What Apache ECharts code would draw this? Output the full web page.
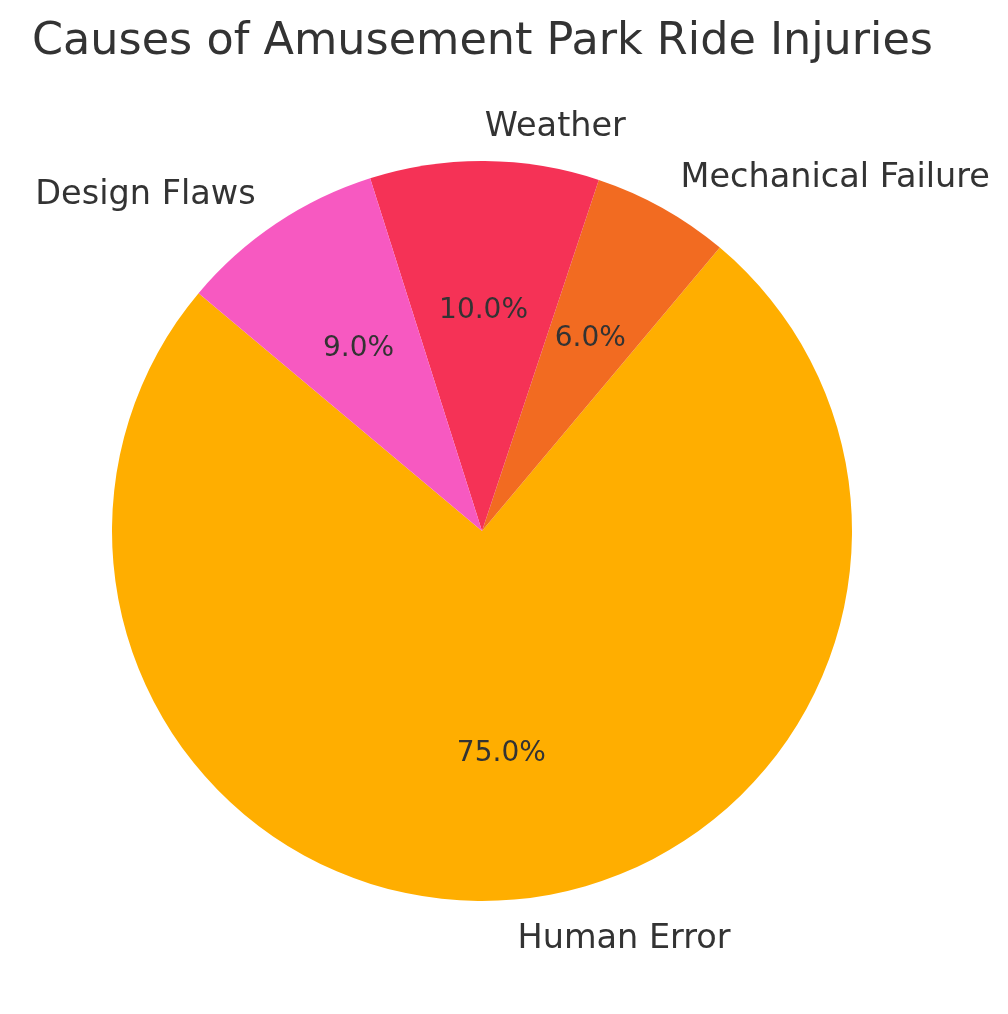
<!DOCTYPE html>
<html>
<head>
<meta charset="utf-8">
<script src="https://cdn.jsdelivr.net/npm/echarts@6/dist/echarts.min.js"></script>
<style>
  html, body { margin: 0; padding: 0; background: #fff; }
  #main { width: 1008px; height: 1014px; }
</style>
</head>
<body>
<div id="main"></div>
<script>
// data (drawn counter-clockwise from 140 deg)
var causes = ['Human Error', 'Mechanical Failure', 'Weather', 'Design Flaws'];
var shares = [75, 6, 10, 9];
var colors = ['#FFAE00', '#F26B21', '#F53256', '#F759C1'];

var R = 370;
var textCol = '#333333';
var font = 'DejaVu Sans';

var pieData = [];
for (var i = 0; i < causes.length; i++) {
    pieData.push({ name: causes[i], value: shares[i], itemStyle: { color: colors[i] } });
}

var chart = echarts.init(document.getElementById('main'));
var option = {
    animation: false,
    title: {
        text: 'Causes of Amusement Park Ride Injuries',
        left: 27,
        top: 15,
        textStyle: { color: textCol, fontFamily: font, fontSize: 44.5, fontWeight: 'normal' }
    },
    series: [
        {
            // the slices plus the name labels outside
            type: 'pie',
            center: [482, 531],
            radius: [0, R],
            startAngle: 140,
            clockwise: false,
            avoidLabelOverlap: false,
            silent: true,
            data: pieData,
            label: {
                show: true,
                position: 'outside',
                distanceToLabelLine: 0,
                offset: [0, 3],
                color: textCol,
                fontFamily: font,
                fontSize: 33.5,
                formatter: '{b}'
            },
            labelLine: { show: false, length: R * 0.1, length2: 0 },
            itemStyle: { borderWidth: 0 }
        },
        {
            // transparent ring, its middle sits near 0.6R for the percent labels
            type: 'pie',
            center: [482, 531],
            radius: [68, R],
            startAngle: 140,
            clockwise: false,
            silent: true,
            data: pieData.map(function (d) {
                return { name: d.name, value: d.value, itemStyle: { color: 'rgba(0,0,0,0)' } };
            }),
            label: {
                show: true,
                position: 'inside',
                offset: [0, 2],
                color: textCol,
                fontFamily: font,
                fontSize: 28,
                formatter: function (p) { return p.value.toFixed(1) + '%'; }
            },
            labelLine: { show: false }
        }
    ]
};
chart.setOption(option);
</script>
</body>
</html>
